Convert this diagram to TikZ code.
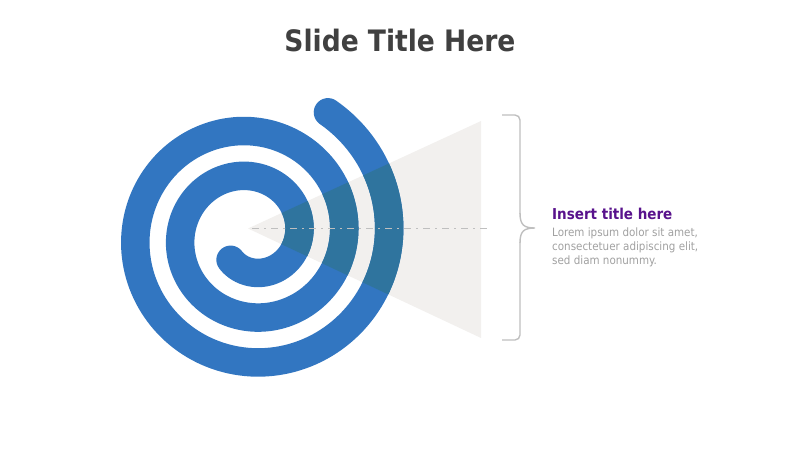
\documentclass[tikz,border=0pt]{standalone}
\usepackage{fontspec}
\setmainfont{DejaVu Sans Condensed}
\usetikzlibrary{positioning}

\definecolor{spiralblue}{RGB}{50,118,193}
\definecolor{spiralteal}{RGB}{47,116,158}
\definecolor{conegray}{RGB}{242,240,238}
\definecolor{linegray}{RGB}{191,191,191}
\definecolor{titlegray}{RGB}{64,64,64}
\definecolor{headpurple}{RGB}{88,18,140}
\definecolor{textgray}{RGB}{160,160,160}

\begin{document}
\begin{tikzpicture}[x=1pt, y=-1pt,
    spiral/.style={line width=28.5pt, line cap=round},
    axisline/.style={linegray, line width=1.6pt, dash pattern=on 7pt off 5pt on 2pt off 5pt},
    bracket/.style={linegray, line width=1.4pt, rounded corners=5pt}]
\useasboundingbox (0,0) rectangle (800,450);
% title
\node[font=\bfseries\fontsize{29.5}{33}\selectfont, text=titlegray] (title) at (400,41) {Slide Title Here};
% cone
\coordinate (apex) at (248,228.5);
\coordinate (conetop) at (481,121);
\coordinate (conebot) at (481,338);
\fill[conegray] (apex) -- (conetop) -- (conebot) -- cycle;
% spiral
\draw[spiral, spiralblue] plot[domain=-130:778, samples=400, variable=\t]
    ({251+(48+\t/8)*cos(\t)}, {235.5-(48+\t/8)*sin(\t)});
% spiral inside the cone
\begin{scope}
\clip (apex) -- (conetop) -- (conebot) -- cycle;
\draw[spiral, spiralteal] plot[domain=-130:778, samples=400, variable=\t]
    ({251+(48+\t/8)*cos(\t)}, {235.5-(48+\t/8)*sin(\t)});
\end{scope}
% axis
\coordinate (axisend) at (487,228.5);
\draw[axisline] (apex) ++(4,0) -- (axisend);
% brace
\coordinate (bracetop) at (502,115);
\coordinate (bracetip) at (535,228);
\coordinate (bracebot) at (502,340);
\draw[bracket] (bracetop) -- (520,115) -- (520,214);
\draw[linegray, line width=1.4pt] (520,213) .. controls (520,225) and (524,228) .. (bracetip)
    .. controls (524,228) and (520,231) .. (520,243);
\draw[bracket] (520,242) -- (520,340) -- (bracebot);
% text
\node[anchor=base west, inner sep=0pt, font=\bfseries\fontsize{15}{18}\selectfont, text=headpurple] (head) at (552,219) {Insert title here};
\node[anchor=north west, inner sep=0pt, align=left, font=\fontsize{11.5}{14}\selectfont, text=textgray] (body) at (552,227.5) {Lorem ipsum dolor sit amet,\\consectetuer adipiscing elit,\\sed diam nonummy.};
\end{tikzpicture}
\end{document}
